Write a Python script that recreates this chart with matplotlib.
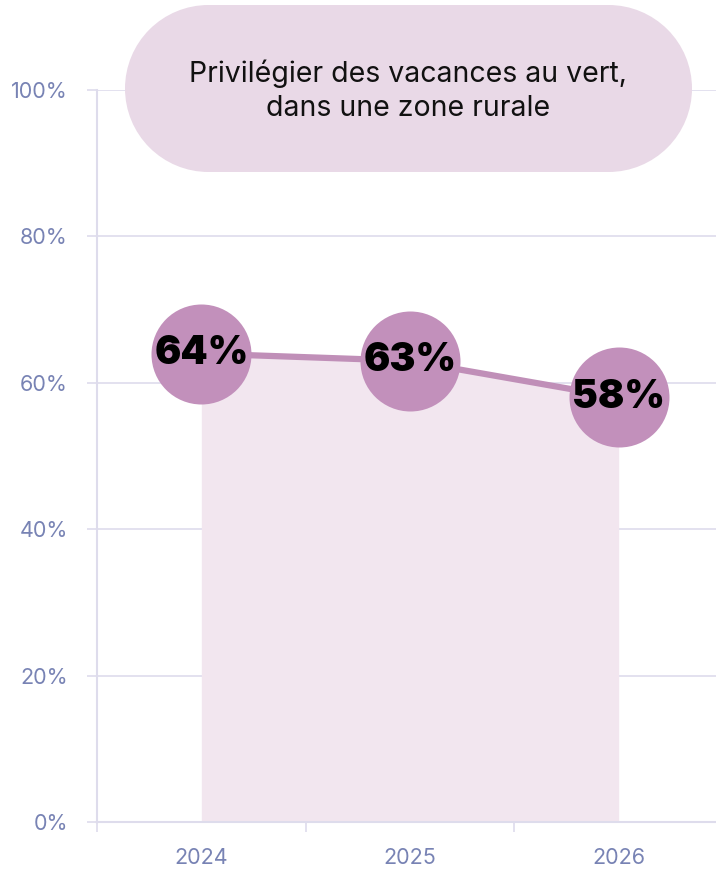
import matplotlib
matplotlib.use("Agg")
from matplotlib import pyplot as plt
from matplotlib.patches import Circle, Rectangle
from matplotlib.transforms import IdentityTransform

years = ["2024", "2025", "2026"]
values = [64, 63, 58]
y_ticks = [0, 20, 40, 60, 80, 100]
title = "Privilégier des vacances au vert,\ndans une zone rurale"

plt.rcParams['font.family'] = ['Inter', 'DejaVu Sans']

fig = plt.figure(figsize=(7.16, 8.71), dpi=100)
ax = fig.add_axes([97 / 716, 49 / 871, 626 / 716, 732 / 871])

x = list(range(len(years)))
grid_col = "#dedcec"
tick_col = "#7883b4"

ax.fill_between(x, 0, values, color="#f2e6ef", lw=0, zorder=1)
ax.plot(x, values, color="#c08fb8", lw=4.5, zorder=2, solid_capstyle="butt")
ax.scatter(x, values, s=72 ** 2, color="#c290bb", zorder=3, linewidths=0)
for xi, v in zip(x, values):
    ax.text(xi, v, f"{v}%", ha="center", va="center", fontsize=28,
            fontweight="black", color="black", zorder=4)

ax.set_xlim(-0.5, 2.5)
ax.set_ylim(0, 100)
ax.set_xticks(x)
ax.set_xticklabels(years)
ax.set_xticks([-0.5, 0.5, 1.5, 2.5], minor=True)
ax.set_yticks(y_ticks)
ax.set_yticklabels([f"{t}%" for t in y_ticks])

ax.grid(axis="y", color=grid_col, lw=1.2, zorder=0)
ax.set_axisbelow(True)
for s in ["top", "right"]:
    ax.spines[s].set_visible(False)
for s in ["left", "bottom"]:
    ax.spines[s].set_color(grid_col)
    ax.spines[s].set_linewidth(1.5)

ax.tick_params(axis="y", length=7, color=grid_col, width=1.2,
               labelcolor=tick_col, labelsize=15.5, pad=14)
ax.tick_params(axis="x", which="major", length=0, labelcolor=tick_col,
               labelsize=15.5, pad=19)
ax.tick_params(axis="x", which="minor", length=7, color=grid_col, width=1.2)

# pill-shaped title box, in pixels
pill_col = "#e9d9e7"
r = 83.5
left, right, top = 125, 692, 871 - 5
cy = top - r
for cx in (left + r, right - r):
    fig.patches.append(Circle((cx, cy), r, transform=IdentityTransform(),
                              facecolor=pill_col, edgecolor="none", zorder=5))
fig.patches.append(Rectangle((left + r, cy - r), right - left - 2 * r, 2 * r,
                             transform=IdentityTransform(), facecolor=pill_col,
                             edgecolor="none", zorder=5))
fig.text(408 / 716, 1 - 91 / 871, title, ha="center", va="center",
         fontsize=20.5, color="#111111", linespacing=1.35, zorder=6)

fig.savefig("out.png", dpi=100)
